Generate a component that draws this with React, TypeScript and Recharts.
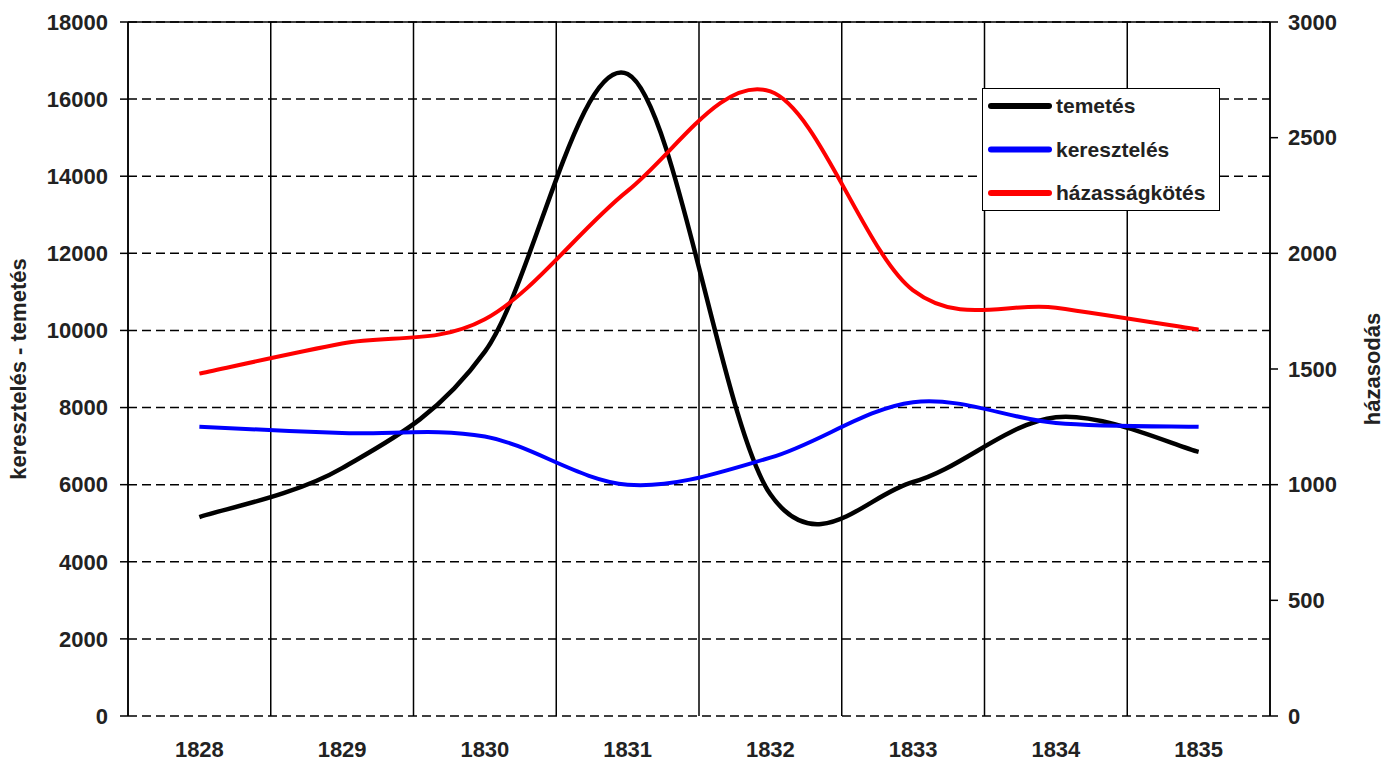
import { CartesianGrid, Label, Legend, Line, LineChart, ReferenceLine, XAxis, YAxis } from "recharts";

const years = ["1828", "1829", "1830", "1831", "1832", "1833", "1834", "1835"];
const temetes = [5160, 6430, 9450, 16650, 5750, 6070, 7750, 6850];
const kereszteles = [7500, 7340, 7250, 6000, 6700, 8140, 7600, 7500];
const hazassagkotes = [1480, 1610, 1715, 2270, 2700, 1840, 1765, 1670];

const seriesNames = ["temetés", "keresztelés", "házasságkötés"];

const leftTicks = [0, 2000, 4000, 6000, 8000, 10000, 12000, 14000, 16000, 18000];
const rightTicks = [0, 500, 1000, 1500, 2000, 2500, 3000];

const data = years.map((year, i) => ({
    pos: i + 0.5,
    year,
    temetes: temetes[i],
    kereszteles: kereszteles[i],
    hazassagkotes: hazassagkotes[i],
}));

const centerTicks = years.map((_, i) => i + 0.5);
const boundaryTicks = [...years.map((_, i) => i), years.length];

const FONT = "'Liberation Sans', Arial, sans-serif";
const tickStyle = { fill: "#222", fontSize: 22, fontWeight: 700, fontFamily: FONT };
const titleStyle = { textAnchor: "middle", fontSize: 22, fontWeight: 700, fontFamily: FONT, fill: "#222" } as any;

// excel-like smoothed line (catmull-rom through the points)
const smooth = (context: any) => {
    let pts: number[][] = [];
    return {
        areaStart() {},
        areaEnd() {},
        lineStart() {
            pts = [];
        },
        point(x: number, y: number) {
            pts.push([+x, +y]);
        },
        lineEnd() {
            const n = pts.length;
            if (!n) return;
            context.moveTo(pts[0][0], pts[0][1]);
            for (let i = 0; i < n - 1; i++) {
                const p0 = pts[Math.max(i - 1, 0)];
                const p1 = pts[i];
                const p2 = pts[i + 1];
                const p3 = pts[Math.min(i + 2, n - 1)];
                context.bezierCurveTo(
                    p1[0] + (p2[0] - p0[0]) / 6,
                    p1[1] + (p2[1] - p0[1]) / 6,
                    p2[0] - (p3[0] - p1[0]) / 6,
                    p2[1] - (p3[1] - p1[1]) / 6,
                    p2[0],
                    p2[1]
                );
            }
        },
    };
};

function LegendBox({ payload }: any) {
    if (!payload) return null;
    const items = seriesNames
        .map((name) => payload.find((p: any) => p.value === name))
        .filter(Boolean);
    return (
        <div style={{ width: 238, height: 123, border: "1.5px solid #000", background: "#fff", boxSizing: "border-box" }}>
            <svg width={236} height={121}>
                {items.map((entry: any, i: number) => (
                    <g key={entry.value}>
                        <line x1={8} x2={66} y1={17 + i * 43.5} y2={17 + i * 43.5}
                            stroke={entry.color} strokeWidth={6} strokeLinecap="round" />
                        <text x={73} y={17 + i * 43.5} dy="0.35em" fill="#222"
                            style={{ fontSize: 21, fontWeight: 700, fontFamily: FONT }}>
                            {entry.value}
                        </text>
                    </g>
                ))}
            </svg>
        </div>
    );
}

export default function App() {
    return (
        <div style={{ position: "absolute", left: 0, top: 0, background: "#fff" }}>
            <LineChart width={1392} height={764} data={data} margin={{ top: 22, right: 0, bottom: 0, left: 0 }}>
                <XAxis xAxisId="grid" type="number" dataKey="pos" domain={[0, 8]} ticks={boundaryTicks}
                    height={0} tickSize={8} tickFormatter={() => ""}
                    axisLine={{ stroke: "#000", strokeWidth: 1.5 }} tickLine={{ stroke: "#000", strokeWidth: 1.5 }} />
                <XAxis xAxisId="lab" type="number" dataKey="pos" domain={[0, 8]} ticks={centerTicks}
                    height={48} tickSize={6} tickMargin={19} axisLine={false} tickLine={false}
                    tickFormatter={(v: number) => years[Math.floor(v)]} tick={tickStyle} />
                <YAxis yAxisId="left" domain={[0, 18000]} ticks={leftTicks} width={128}
                    tickSize={8} tickMargin={12} tick={tickStyle}
                    axisLine={{ stroke: "#000", strokeWidth: 1.5 }} tickLine={{ stroke: "#000", strokeWidth: 1.5 }}>
                    <Label value="keresztelés - temetés" angle={-90} position="insideLeft" offset={18} style={titleStyle} />
                </YAxis>
                <YAxis yAxisId="right" orientation="right" domain={[0, 3000]} ticks={rightTicks} width={122}
                    tickSize={8} tickMargin={10} tick={tickStyle}
                    axisLine={{ stroke: "#000", strokeWidth: 1.5 }} tickLine={{ stroke: "#000", strokeWidth: 1.5 }}>
                    <Label value="házasodás" angle={-90} position="insideRight" offset={20} style={titleStyle} />
                </YAxis>
                <CartesianGrid xAxisId="grid" yAxisId="left" vertical={false}
                    stroke="#000" strokeWidth={1.5} strokeDasharray="9 5" />
                <CartesianGrid xAxisId="grid" yAxisId="left" horizontal={false}
                    stroke="#000" strokeWidth={1.5} />
                <ReferenceLine xAxisId="grid" yAxisId="left" y={18000} stroke="#000" strokeWidth={1.5} />
                <Legend layout="vertical" align="center" verticalAlign="middle" content={LegendBox}
                    wrapperStyle={{ left: 982, top: 88, width: 238, height: 123 }} />
                <Line xAxisId="lab" yAxisId="left" dataKey="temetes" name="temetés" type={smooth as any}
                    stroke="#000" strokeWidth={4.5} dot={false} activeDot={false} isAnimationActive={false} />
                <Line xAxisId="lab" yAxisId="left" dataKey="kereszteles" name="keresztelés" type={smooth as any}
                    stroke="#0000ff" strokeWidth={4} dot={false} activeDot={false} isAnimationActive={false} />
                <Line xAxisId="lab" yAxisId="right" dataKey="hazassagkotes" name="házasságkötés" type={smooth as any}
                    stroke="#ff0000" strokeWidth={4} dot={false} activeDot={false} isAnimationActive={false} />
            </LineChart>
        </div>
    );
}
